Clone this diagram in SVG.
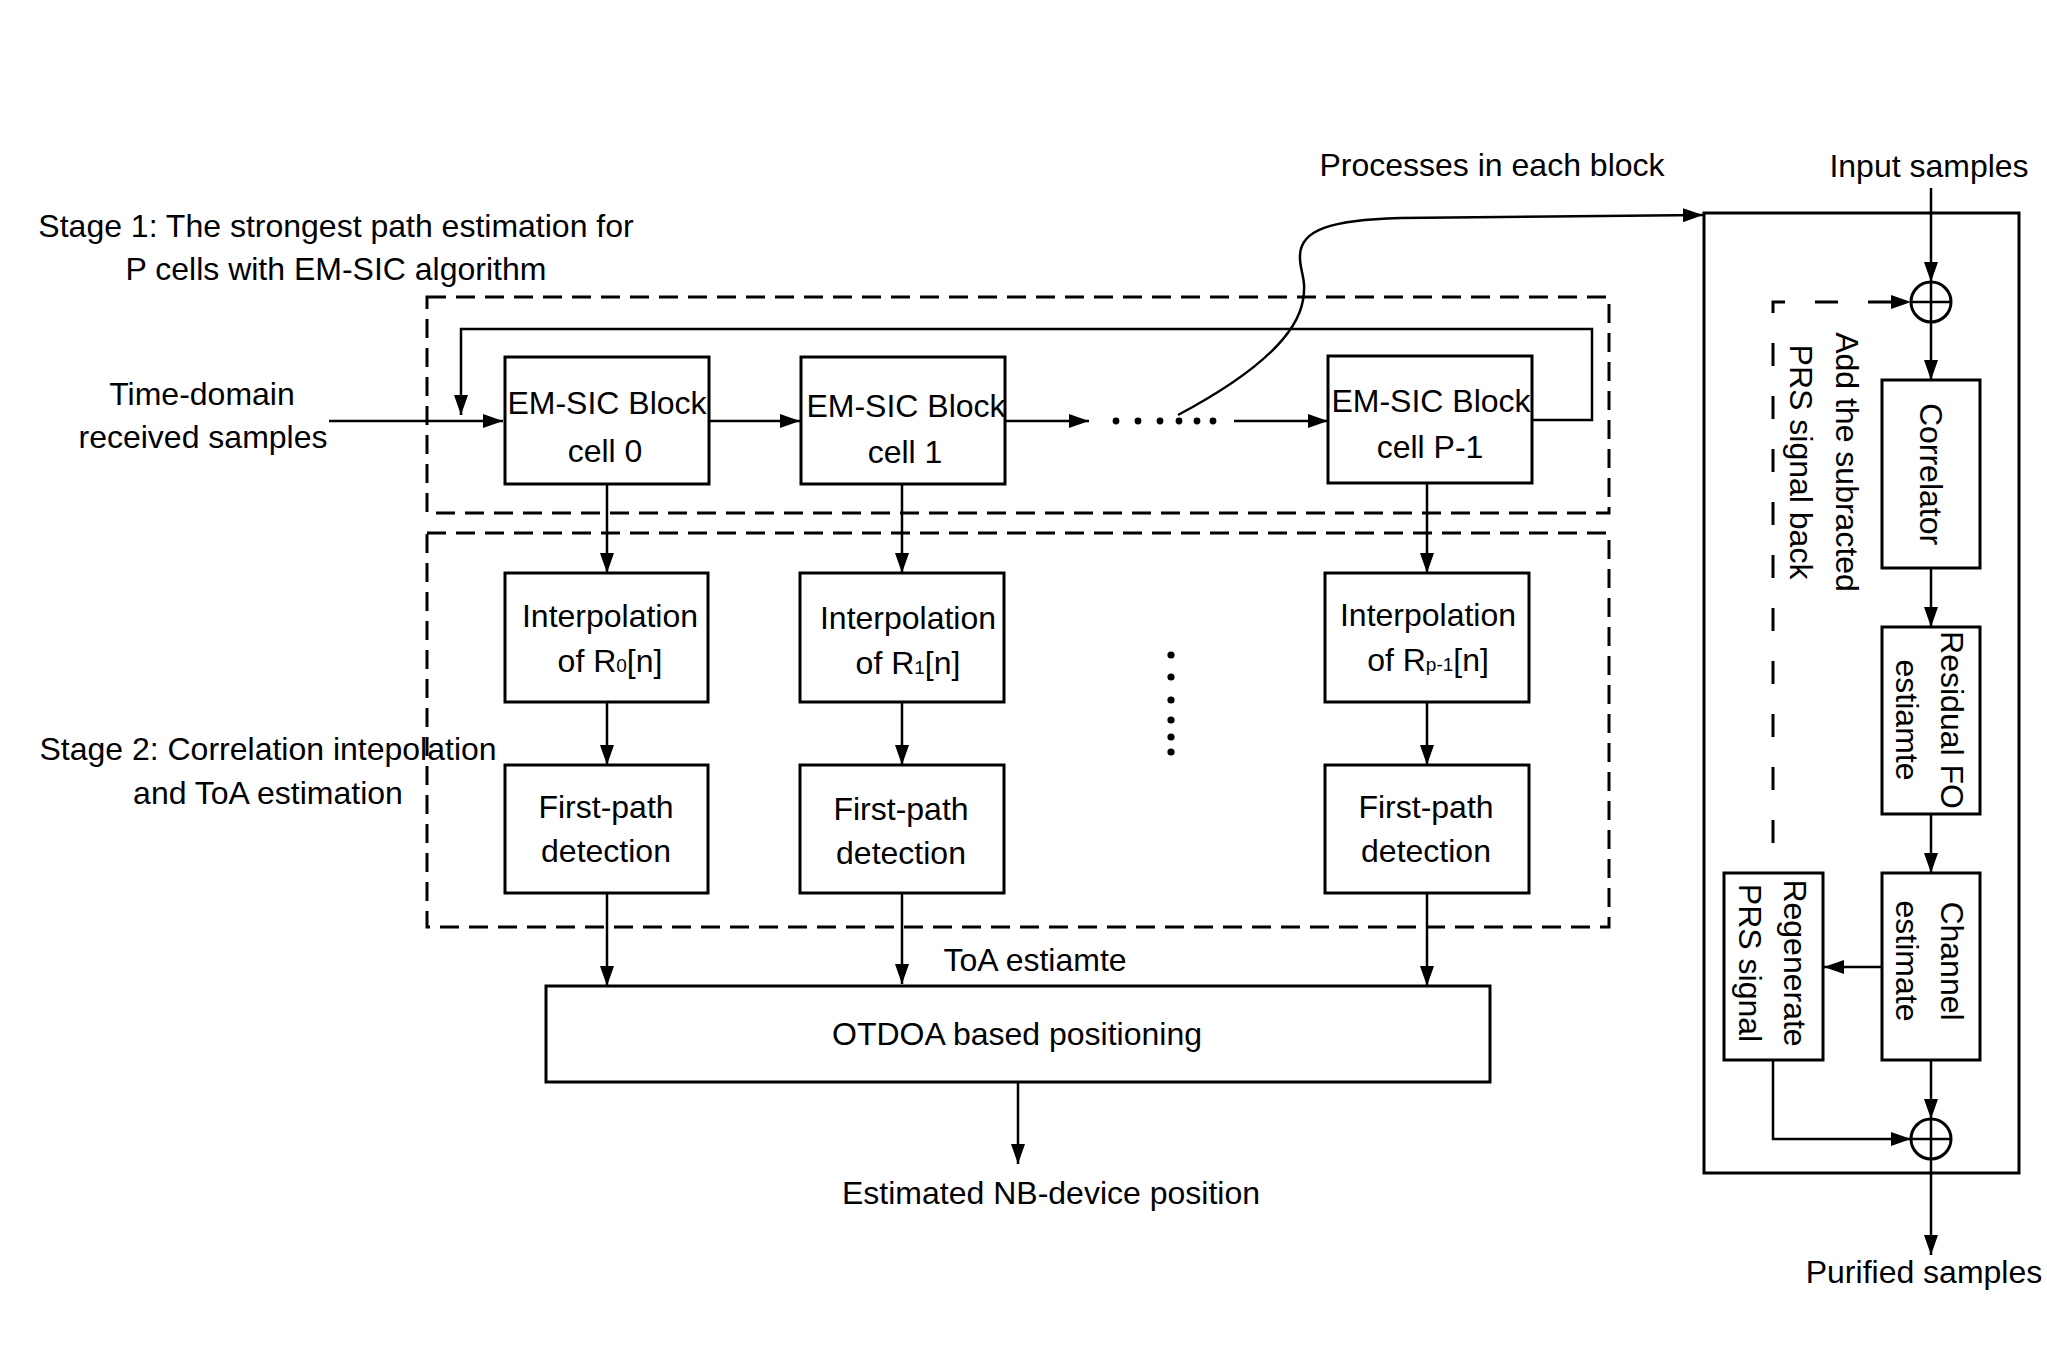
<svg xmlns="http://www.w3.org/2000/svg" width="2047" height="1360" viewBox="0 0 2047 1360">
<style>
  .t { font-family: "Liberation Sans", Arial, sans-serif; font-size: 32px; fill: #000; text-anchor: middle; }
  .box { fill: #fff; stroke: #000; stroke-width: 3; }
  .frame { fill: none; stroke: #000; stroke-width: 3; stroke-dasharray: 19 10; }
  .c { fill: none; stroke: #000; stroke-width: 2.5; }
  .ca { fill: none; stroke: #000; stroke-width: 2.5; marker-end: url(#ah); }
  .cd { fill: none; stroke: #000; stroke-width: 3; stroke-dasharray: 23 30; marker-end: url(#ah); }
  .dot { fill: #000; }
  .sub { font-size: 19px; }
</style>
<defs>
  <marker id="ah" markerUnits="userSpaceOnUse" markerWidth="20" markerHeight="14" refX="20" refY="7" orient="auto">
    <path d="M0,0 L20,7 L0,14 z" fill="#000"/>
  </marker>
</defs>
<rect width="2047" height="1360" fill="#fff"/>

<!-- stage frames -->
<g id="stage1-frame"><rect class="frame" x="427" y="297" width="1182" height="216"/></g>
<g id="stage2-frame"><rect class="frame" x="427" y="533" width="1182" height="394"/></g>

<!-- free labels -->
<g id="labels">
  <text class="t" x="336" y="237">Stage 1: The strongest path estimation for</text>
  <text class="t" x="336" y="280">P cells with EM-SIC algorithm</text>
  <text class="t" x="268" y="760">Stage 2: Correlation intepolation</text>
  <text class="t" x="268" y="804">and ToA estimation</text>
  <text class="t" x="202" y="405">Time-domain</text>
  <text class="t" x="203" y="448">received samples</text>
  <text class="t" x="1492" y="176">Processes in each block</text>
  <text class="t" x="1929" y="177">Input samples</text>
  <text class="t" x="1924" y="1283">Purified samples</text>
  <text class="t" x="1035" y="971">ToA estiamte</text>
  <text class="t" x="1051" y="1204">Estimated NB-device position</text>
</g>

<!-- connectors -->
<g id="connectors">
  <path class="ca" d="M329,421 L503,421"/>
  <path class="ca" d="M1532,420 L1592,420 L1592,329 L461,329 L461,415"/>
  <path class="ca" d="M709,421 L800,421"/>
  <path class="ca" d="M1005,421 L1089,421"/>
  <path class="ca" d="M1234,421 L1328,421"/>
  <path class="ca" d="M1178,415 C1240,382 1296,342 1303,300 C1307,278 1299,270 1300,255 C1301,230 1330,220 1400,218 L1703,215"/>

  <path class="ca" d="M607,484 L607,573"/>
  <path class="ca" d="M607,702 L607,765"/>
  <path class="ca" d="M607,893 L607,986"/>
  <path class="ca" d="M902,484 L902,573"/>
  <path class="ca" d="M902,702 L902,765"/>
  <path class="ca" d="M902,893 L902,984"/>
  <path class="ca" d="M1427,484 L1427,573"/>
  <path class="ca" d="M1427,702 L1427,765"/>
  <path class="ca" d="M1427,893 L1427,986"/>
  <path class="ca" d="M1018,1082 L1018,1164"/>

  <path class="ca" d="M1931,188 L1931,282"/>
  <path class="ca" d="M1931,322 L1931,380"/>
  <path class="ca" d="M1931,568 L1931,627"/>
  <path class="ca" d="M1931,814 L1931,873"/>
  <path class="ca" d="M1882,967 L1824,967"/>
  <path class="ca" d="M1931,1060 L1931,1119"/>
  <path class="ca" d="M1773,1060 L1773,1139 L1911,1139"/>
  <path class="ca" d="M1931,1159 L1931,1255"/>
  <path class="cd" d="M1773,843 L1773,302 L1911,302"/>
</g>

<!-- ellipses -->
<g id="ellipsis-h">
  <circle class="dot" cx="1116" cy="421" r="3.4"/>
  <circle class="dot" cx="1138" cy="421" r="3.4"/>
  <circle class="dot" cx="1160" cy="421" r="3.4"/>
  <circle class="dot" cx="1179" cy="421" r="3.4"/>
  <circle class="dot" cx="1197" cy="421" r="3.4"/>
  <circle class="dot" cx="1213" cy="421" r="3.4"/>
</g>
<g id="ellipsis-v">
  <circle class="dot" cx="1171" cy="655" r="3.6"/>
  <circle class="dot" cx="1171" cy="677" r="3.6"/>
  <circle class="dot" cx="1171" cy="700" r="3.6"/>
  <circle class="dot" cx="1171" cy="720" r="3.6"/>
  <circle class="dot" cx="1171" cy="737" r="3.6"/>
  <circle class="dot" cx="1171" cy="752" r="3.6"/>
</g>

<!-- stage 1 blocks -->
<g id="emsic-cell0">
  <rect class="box" x="505" y="357" width="204" height="127"/>
  <text class="t" x="607" y="414">EM-SIC Block</text>
  <text class="t" x="605" y="462">cell 0</text>
</g>
<g id="emsic-cell1">
  <rect class="box" x="801" y="357" width="204" height="127"/>
  <text class="t" x="906" y="417">EM-SIC Block</text>
  <text class="t" x="905" y="463">cell 1</text>
</g>
<g id="emsic-cellP1">
  <rect class="box" x="1328" y="356" width="204" height="127"/>
  <text class="t" x="1431" y="412">EM-SIC Block</text>
  <text class="t" x="1430" y="458">cell P-1</text>
</g>

<!-- stage 2 blocks -->
<g id="interp-0">
  <rect class="box" x="505" y="573" width="203" height="129"/>
  <text class="t" x="610" y="627">Interpolation</text>
  <text class="t" x="610" y="672">of R<tspan class="sub">0</tspan>[n]</text>
</g>
<g id="interp-1">
  <rect class="box" x="800" y="573" width="204" height="129"/>
  <text class="t" x="908" y="629">Interpolation</text>
  <text class="t" x="908" y="674">of R<tspan class="sub">1</tspan>[n]</text>
</g>
<g id="interp-P1">
  <rect class="box" x="1325" y="573" width="204" height="129"/>
  <text class="t" x="1428" y="626">Interpolation</text>
  <text class="t" x="1428" y="671">of R<tspan class="sub">p-1</tspan>[n]</text>
</g>
<g id="fpd-0">
  <rect class="box" x="505" y="765" width="203" height="128"/>
  <text class="t" x="606" y="818">First-path</text>
  <text class="t" x="606" y="862">detection</text>
</g>
<g id="fpd-1">
  <rect class="box" x="800" y="765" width="204" height="128"/>
  <text class="t" x="901" y="820">First-path</text>
  <text class="t" x="901" y="864">detection</text>
</g>
<g id="fpd-P1">
  <rect class="box" x="1325" y="765" width="204" height="128"/>
  <text class="t" x="1426" y="818">First-path</text>
  <text class="t" x="1426" y="862">detection</text>
</g>
<g id="otdoa">
  <rect class="box" x="546" y="986" width="944" height="96"/>
  <text class="t" x="1017" y="1045">OTDOA based positioning</text>
</g>

<!-- right panel: processes in each block -->
<g id="process-frame"><rect fill="none" stroke="#000" stroke-width="3" x="1704" y="213" width="315" height="960"/></g>
<g id="adder-in">
  <circle cx="1931" cy="302" r="20" fill="none" stroke="#000" stroke-width="3"/>
  <path d="M1911,302 L1951,302 M1931,282 L1931,322" stroke="#000" stroke-width="2.5"/>
</g>
<g id="adder-out">
  <circle cx="1931" cy="1139" r="20" fill="none" stroke="#000" stroke-width="3"/>
  <path d="M1911,1139 L1951,1139 M1931,1119 L1931,1159" stroke="#000" stroke-width="2.5"/>
</g>
<g id="correlator">
  <rect class="box" x="1882" y="380" width="98" height="188"/>
  <text class="t" transform="translate(1931,474) rotate(90)" x="0" y="11">Correlator</text>
</g>
<g id="residual-fo">
  <rect class="box" x="1882" y="627" width="98" height="187"/>
  <g transform="translate(1930,720) rotate(90)">
    <text class="t" x="0" y="-11">Residual FO</text>
    <text class="t" x="0" y="34">estiamte</text>
  </g>
</g>
<g id="channel-estimate">
  <rect class="box" x="1882" y="873" width="98" height="187"/>
  <g transform="translate(1930,961) rotate(90)">
    <text class="t" x="0" y="-11">Channel</text>
    <text class="t" x="0" y="34">estimate</text>
  </g>
</g>
<g id="regenerate-prs">
  <rect class="box" x="1724" y="873" width="99" height="187"/>
  <g transform="translate(1773,963) rotate(90)">
    <text class="t" x="0" y="-11">Regenerate</text>
    <text class="t" x="0" y="34">PRS signal</text>
  </g>
</g>
<g id="feedback-label">
  <g transform="translate(1824,462) rotate(90)">
    <text class="t" x="0" y="-12">Add the subracted</text>
    <text class="t" x="0" y="34">PRS signal back</text>
  </g>
</g>
</svg>
